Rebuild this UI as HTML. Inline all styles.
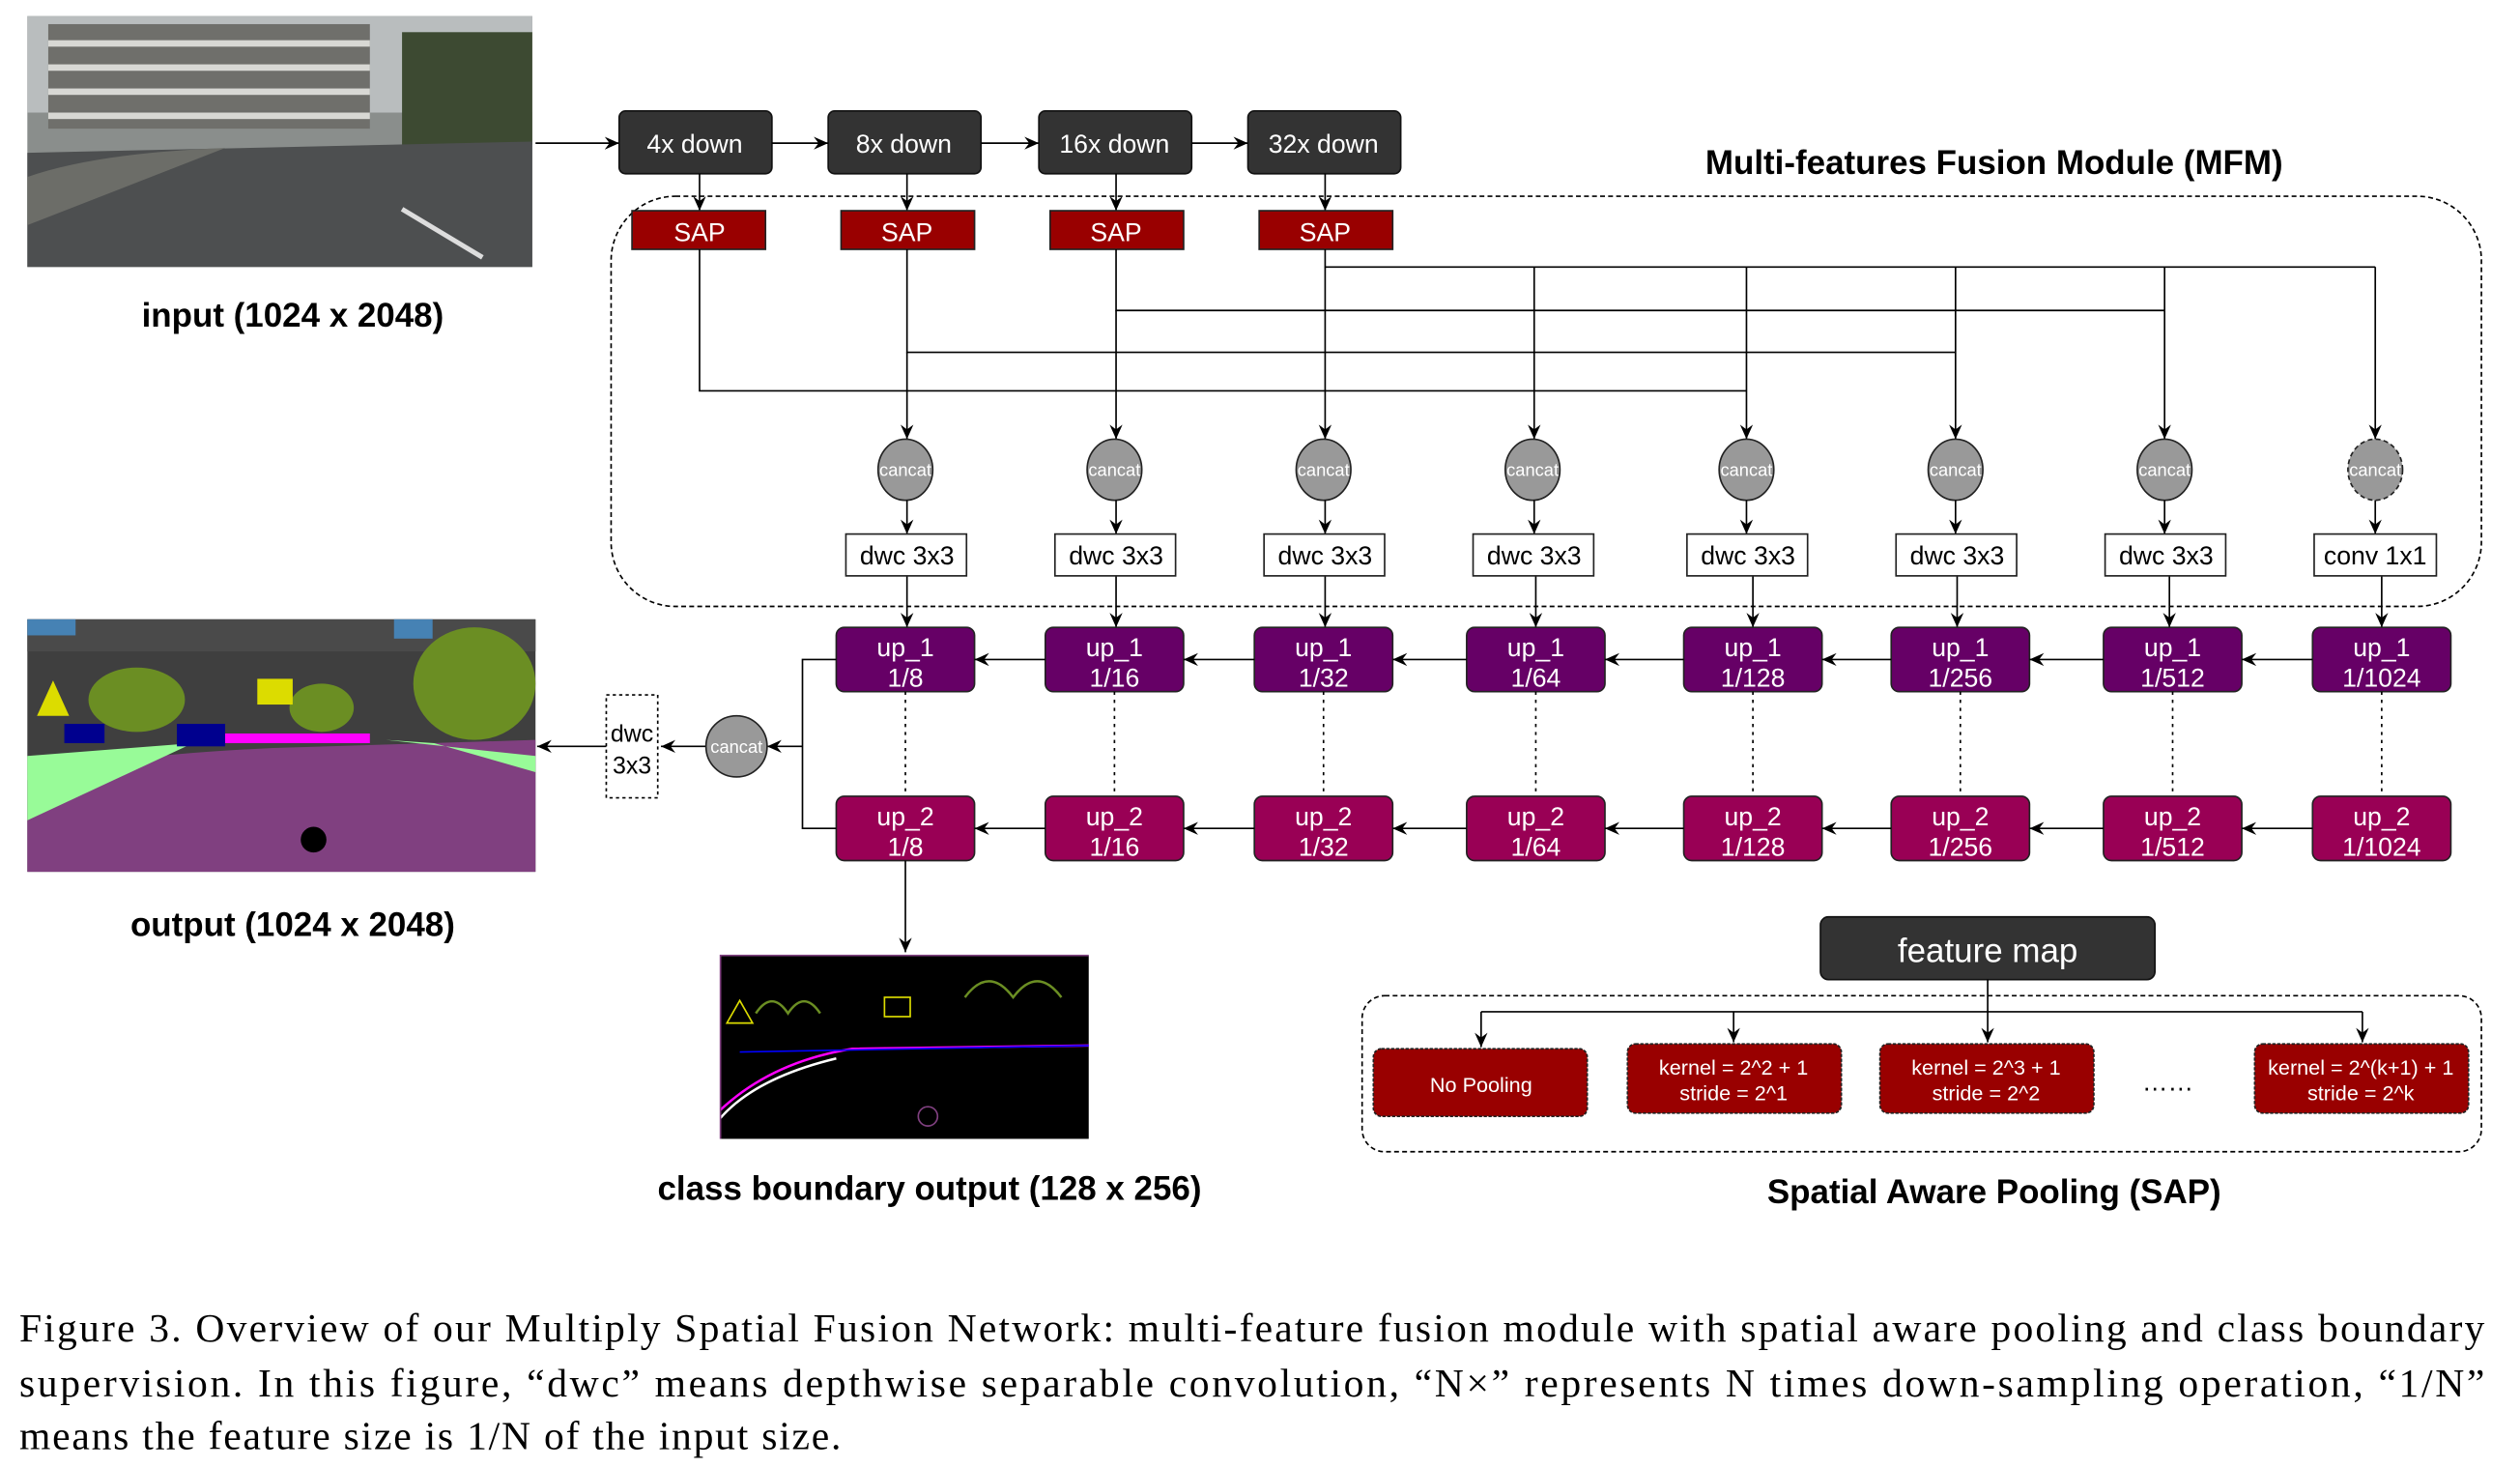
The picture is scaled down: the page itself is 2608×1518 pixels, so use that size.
<!DOCTYPE html>
<html><head><meta charset="utf-8"><style>
html,body{margin:0;padding:0;background:#fff;}
svg{display:block;}
</style></head><body>
<svg width="2608" height="1518" viewBox="0 0 1567 912" preserveAspectRatio="none" xmlns="http://www.w3.org/2000/svg" font-family="Liberation Sans, sans-serif">
<defs>
<marker id="a" markerWidth="10" markerHeight="10" refX="9" refY="5" orient="auto" markerUnits="userSpaceOnUse"><path d="M0,1 L9,5 L0,9 L3,5 z" fill="#000"/></marker>
</defs>
<rect width="1567" height="912" fill="#fff"/>

<!-- input image -->
<g>
<rect x="17" y="10" width="314" height="156" fill="#8a8e8c"/>
<rect x="17" y="10" width="314" height="60" fill="#b9bdbe"/>
<rect x="30" y="15" width="200" height="65" fill="#6f6f6b"/>
<rect x="30" y="25" width="200" height="4" fill="#d8d8d4"/><rect x="30" y="40" width="200" height="4" fill="#d8d8d4"/><rect x="30" y="55" width="200" height="4" fill="#d8d8d4"/><rect x="30" y="70" width="200" height="4" fill="#d8d8d4"/>
<rect x="250" y="20" width="81" height="70" fill="#3d4a32"/>
<path d="M17 95 L331 88 L331 166 L17 166 z" fill="#4d4f50"/>
<path d="M17 110 Q60 95 140 92 L17 140 z" fill="#6c6d68"/>
<line x1="250" y1="130" x2="300" y2="160" stroke="#ddd" stroke-width="3"/>
</g>
<text x="182" y="203" font-size="21" font-weight="bold" text-anchor="middle">input (1024 x 2048)</text>

<!-- output image -->
<g>
<rect x="17" y="385" width="316" height="157" fill="#3f3f3f"/>
<rect x="17" y="385" width="316" height="20" fill="#4a4a4a"/>
<path d="M17 485 Q60 470 170 465 L333 460 L333 542 L17 542 z" fill="#804080"/>
<path d="M17 470 L120 462 L17 510 z" fill="#98fb98"/>
<path d="M240 460 L333 470 L333 480 L270 462 z" fill="#98fb98"/>
<ellipse cx="85" cy="435" rx="30" ry="20" fill="#6b8e23"/>
<ellipse cx="295" cy="425" rx="38" ry="35" fill="#6b8e23"/>
<ellipse cx="200" cy="440" rx="20" ry="15" fill="#6b8e23"/>
<polygon points="33,423 43,445 23,445" fill="#dcdc00"/>
<rect x="160" y="422" width="22" height="16" fill="#dcdc00"/>
<rect x="110" y="450" width="30" height="14" fill="#00008e"/>
<rect x="40" y="450" width="25" height="12" fill="#00008e"/>
<rect x="140" y="456" width="90" height="6" fill="#f0f"/>
<circle cx="195" cy="522" r="8" fill="#000"/>
<rect x="245" y="385" width="24" height="12" fill="#4682b4"/>
<rect x="17" y="385" width="30" height="10" fill="#4682b4"/>
</g>
<text x="182" y="582" font-size="21" font-weight="bold" text-anchor="middle">output (1024 x 2048)</text>

<!-- boundary image -->
<g>
<rect x="448" y="594" width="229" height="114" fill="#000"/>
<path d="M448 690 Q480 660 530 652 L677 650" stroke="#f0f" fill="none" stroke-width="1.5"/>
<path d="M448 695 Q470 670 520 658" stroke="#fff" fill="none" stroke-width="1.5"/>
<path d="M470 630 q10 -15 20 0 q10 -15 20 0 M600 620 q15 -20 30 0 q15 -20 30 0" stroke="#6b8e23" fill="none" stroke-width="1.5"/>
<rect x="550" y="620" width="16" height="12" stroke="#dcdc00" fill="none"/>
<polygon points="460,622 468,636 452,636" stroke="#dcdc00" fill="none"/>
<line x1="460" y1="654" x2="677" y2="650" stroke="#00f"/>
<path d="M448 708 L448 594 L677 594" stroke="#804080" fill="none"/>
<circle cx="577" cy="694" r="6" stroke="#804080" fill="none"/>
</g>
<text x="578" y="746" font-size="21" font-weight="bold" text-anchor="middle">class boundary output (128 x 256)</text>

<!-- down boxes -->
<g font-size="16" fill="#fff" text-anchor="middle">
<rect x="385" y="69" width="95" height="39" rx="4" fill="#333" stroke="#111"/><text x="432" y="95" fill="#fff">4x down</text>
<rect x="515" y="69" width="95" height="39" rx="4" fill="#333" stroke="#111"/><text x="562" y="95" fill="#fff">8x down</text>
<rect x="646" y="69" width="95" height="39" rx="4" fill="#333" stroke="#111"/><text x="693" y="95" fill="#fff">16x down</text>
<rect x="776" y="69" width="95" height="39" rx="4" fill="#333" stroke="#111"/><text x="823" y="95" fill="#fff">32x down</text>
</g>
<g stroke="#000" stroke-width="1" fill="none" marker-end="url(#a)">
<line x1="333" y1="89" x2="385" y2="89"/>
<line x1="480" y1="89" x2="515" y2="89"/>
<line x1="610" y1="89" x2="646" y2="89"/>
<line x1="741" y1="89" x2="776" y2="89"/>
<line x1="435" y1="108" x2="435" y2="131"/>
<line x1="564" y1="108" x2="564" y2="131"/>
<line x1="694" y1="108" x2="694" y2="131"/>
<line x1="824" y1="108" x2="824" y2="131"/>
</g>
<text x="1240" y="108" font-size="21" font-weight="bold" text-anchor="middle">Multi-features Fusion Module (MFM)</text>

<!-- MFM dashed -->
<rect x="380" y="122" width="1163" height="255" rx="40" fill="none" stroke="#000" stroke-dasharray="3,2"/>

<!-- SAP boxes -->
<g font-size="16" text-anchor="middle">
<rect x="393" y="131" width="83" height="24" fill="#990000" stroke="#222"/><text x="435" y="150" fill="#fff">SAP</text>
<rect x="523" y="131" width="83" height="24" fill="#990000" stroke="#222"/><text x="564" y="150" fill="#fff">SAP</text>
<rect x="653" y="131" width="83" height="24" fill="#990000" stroke="#222"/><text x="694" y="150" fill="#fff">SAP</text>
<rect x="783" y="131" width="83" height="24" fill="#990000" stroke="#222"/><text x="824" y="150" fill="#fff">SAP</text>
</g>

<!-- buses -->
<g stroke="#000" stroke-width="1" fill="none">
<polyline points="435,155 435,243 1086,243"/>
<polyline points="564,155 564,219 1216,219"/>
<polyline points="694,155 694,193 1346,193"/>
<polyline points="824,155 824,166 1477,166"/>
</g>
<g stroke="#000" stroke-width="1" fill="none" marker-end="url(#a)">
<line x1="564" y1="219" x2="564" y2="273"/>
<line x1="694" y1="193" x2="694" y2="273"/>
<line x1="824" y1="166" x2="824" y2="273"/>
<line x1="954" y1="166" x2="954" y2="273"/>
<line x1="1086" y1="166" x2="1086" y2="273"/>
<line x1="1216" y1="166" x2="1216" y2="273"/>
<line x1="1346" y1="166" x2="1346" y2="273"/>
<line x1="1477" y1="166" x2="1477" y2="273"/>
</g>

<!-- cancat + dwc -->
<g font-size="11" text-anchor="middle">
<ellipse cx="563" cy="292" rx="17" ry="19" fill="#999" stroke="#222"/><text x="563" y="296" fill="#fff">cancat</text>
<ellipse cx="693" cy="292" rx="17" ry="19" fill="#999" stroke="#222"/><text x="693" y="296" fill="#fff">cancat</text>
<ellipse cx="823" cy="292" rx="17" ry="19" fill="#999" stroke="#222"/><text x="823" y="296" fill="#fff">cancat</text>
<ellipse cx="953" cy="292" rx="17" ry="19" fill="#999" stroke="#222"/><text x="953" y="296" fill="#fff">cancat</text>
<ellipse cx="1086" cy="292" rx="17" ry="19" fill="#999" stroke="#222"/><text x="1086" y="296" fill="#fff">cancat</text>
<ellipse cx="1216" cy="292" rx="17" ry="19" fill="#999" stroke="#222"/><text x="1216" y="296" fill="#fff">cancat</text>
<ellipse cx="1346" cy="292" rx="17" ry="19" fill="#999" stroke="#222"/><text x="1346" y="296" fill="#fff">cancat</text>
<ellipse cx="1477" cy="292" rx="17" ry="19" fill="#999" stroke="#222" stroke-dasharray="3,2"/><text x="1477" y="296" fill="#fff">cancat</text>
</g>
<g stroke="#000" fill="none" marker-end="url(#a)">
<line x1="564" y1="311" x2="564" y2="332"/><line x1="694" y1="311" x2="694" y2="332"/><line x1="824" y1="311" x2="824" y2="332"/><line x1="954" y1="311" x2="954" y2="332"/>
<line x1="1086" y1="311" x2="1086" y2="332"/><line x1="1216" y1="311" x2="1216" y2="332"/><line x1="1346" y1="311" x2="1346" y2="332"/><line x1="1477" y1="311" x2="1477" y2="332"/>
<line x1="564" y1="358" x2="564" y2="390"/><line x1="694" y1="358" x2="694" y2="390"/><line x1="824" y1="358" x2="824" y2="390"/><line x1="955" y1="358" x2="955" y2="390"/>
<line x1="1090" y1="358" x2="1090" y2="390"/><line x1="1217" y1="358" x2="1217" y2="390"/><line x1="1349" y1="358" x2="1349" y2="390"/><line x1="1481" y1="358" x2="1481" y2="390"/>
</g>
<g font-size="16" text-anchor="middle">
<rect x="526" y="332" width="75" height="26" fill="#fff" stroke="#222"/><text x="564" y="351">dwc 3x3</text>
<rect x="656" y="332" width="75" height="26" fill="#fff" stroke="#222"/><text x="694" y="351">dwc 3x3</text>
<rect x="786" y="332" width="75" height="26" fill="#fff" stroke="#222"/><text x="824" y="351">dwc 3x3</text>
<rect x="916" y="332" width="75" height="26" fill="#fff" stroke="#222"/><text x="954" y="351">dwc 3x3</text>
<rect x="1049" y="332" width="75" height="26" fill="#fff" stroke="#222"/><text x="1087" y="351">dwc 3x3</text>
<rect x="1179" y="332" width="75" height="26" fill="#fff" stroke="#222"/><text x="1217" y="351">dwc 3x3</text>
<rect x="1309" y="332" width="75" height="26" fill="#fff" stroke="#222"/><text x="1347" y="351">dwc 3x3</text>
<rect x="1439" y="332" width="76" height="26" fill="#fff" stroke="#222"/><text x="1477" y="351">conv 1x1</text>
</g>

<!-- up rows -->
<g font-size="16" text-anchor="middle" fill="#fff">
<rect x="520" y="390" width="86" height="40" rx="5" fill="#660066" stroke="#222"/><text x="563" y="408" fill="#fff">up_1</text><text x="563" y="427" fill="#fff">1/8</text>
<rect x="650" y="390" width="86" height="40" rx="5" fill="#660066" stroke="#222"/><text x="693" y="408" fill="#fff">up_1</text><text x="693" y="427" fill="#fff">1/16</text>
<rect x="780" y="390" width="86" height="40" rx="5" fill="#660066" stroke="#222"/><text x="823" y="408" fill="#fff">up_1</text><text x="823" y="427" fill="#fff">1/32</text>
<rect x="912" y="390" width="86" height="40" rx="5" fill="#660066" stroke="#222"/><text x="955" y="408" fill="#fff">up_1</text><text x="955" y="427" fill="#fff">1/64</text>
<rect x="1047" y="390" width="86" height="40" rx="5" fill="#660066" stroke="#222"/><text x="1090" y="408" fill="#fff">up_1</text><text x="1090" y="427" fill="#fff">1/128</text>
<rect x="1176" y="390" width="86" height="40" rx="5" fill="#660066" stroke="#222"/><text x="1219" y="408" fill="#fff">up_1</text><text x="1219" y="427" fill="#fff">1/256</text>
<rect x="1308" y="390" width="86" height="40" rx="5" fill="#660066" stroke="#222"/><text x="1351" y="408" fill="#fff">up_1</text><text x="1351" y="427" fill="#fff">1/512</text>
<rect x="1438" y="390" width="86" height="40" rx="5" fill="#660066" stroke="#222"/><text x="1481" y="408" fill="#fff">up_1</text><text x="1481" y="427" fill="#fff">1/1024</text>
<rect x="520" y="495" width="86" height="40" rx="5" fill="#990055" stroke="#222"/><text x="563" y="513" fill="#fff">up_2</text><text x="563" y="532" fill="#fff">1/8</text>
<rect x="650" y="495" width="86" height="40" rx="5" fill="#990055" stroke="#222"/><text x="693" y="513" fill="#fff">up_2</text><text x="693" y="532" fill="#fff">1/16</text>
<rect x="780" y="495" width="86" height="40" rx="5" fill="#990055" stroke="#222"/><text x="823" y="513" fill="#fff">up_2</text><text x="823" y="532" fill="#fff">1/32</text>
<rect x="912" y="495" width="86" height="40" rx="5" fill="#990055" stroke="#222"/><text x="955" y="513" fill="#fff">up_2</text><text x="955" y="532" fill="#fff">1/64</text>
<rect x="1047" y="495" width="86" height="40" rx="5" fill="#990055" stroke="#222"/><text x="1090" y="513" fill="#fff">up_2</text><text x="1090" y="532" fill="#fff">1/128</text>
<rect x="1176" y="495" width="86" height="40" rx="5" fill="#990055" stroke="#222"/><text x="1219" y="513" fill="#fff">up_2</text><text x="1219" y="532" fill="#fff">1/256</text>
<rect x="1308" y="495" width="86" height="40" rx="5" fill="#990055" stroke="#222"/><text x="1351" y="513" fill="#fff">up_2</text><text x="1351" y="532" fill="#fff">1/512</text>
<rect x="1438" y="495" width="86" height="40" rx="5" fill="#990055" stroke="#222"/><text x="1481" y="513" fill="#fff">up_2</text><text x="1481" y="532" fill="#fff">1/1024</text>
</g>
<g stroke="#000" fill="none" marker-end="url(#a)">
<line x1="650" y1="410" x2="606" y2="410"/><line x1="780" y1="410" x2="736" y2="410"/><line x1="912" y1="410" x2="866" y2="410"/><line x1="1047" y1="410" x2="998" y2="410"/>
<line x1="1176" y1="410" x2="1133" y2="410"/><line x1="1308" y1="410" x2="1262" y2="410"/><line x1="1438" y1="410" x2="1394" y2="410"/>
<line x1="650" y1="515" x2="606" y2="515"/><line x1="780" y1="515" x2="736" y2="515"/><line x1="912" y1="515" x2="866" y2="515"/><line x1="1047" y1="515" x2="998" y2="515"/>
<line x1="1176" y1="515" x2="1133" y2="515"/><line x1="1308" y1="515" x2="1262" y2="515"/><line x1="1438" y1="515" x2="1394" y2="515"/>
<line x1="499" y1="464" x2="477" y2="464"/>
<line x1="439" y1="464" x2="411" y2="464"/>
<line x1="377" y1="464" x2="334" y2="464"/>
<line x1="563" y1="535" x2="563" y2="592"/>
</g>
<g stroke="#000" fill="none" stroke-dasharray="2,3">
<line x1="563" y1="430" x2="563" y2="495"/><line x1="693" y1="430" x2="693" y2="495"/><line x1="823" y1="430" x2="823" y2="495"/><line x1="955" y1="430" x2="955" y2="495"/>
<line x1="1090" y1="430" x2="1090" y2="495"/><line x1="1219" y1="430" x2="1219" y2="495"/><line x1="1351" y1="430" x2="1351" y2="495"/><line x1="1481" y1="430" x2="1481" y2="495"/>
</g>
<polyline points="520,410 499,410 499,515 520,515" stroke="#000" fill="none"/>
<ellipse cx="458" cy="464" rx="19" ry="19" fill="#999" stroke="#222"/><text x="458" y="468" font-size="11" text-anchor="middle" fill="#fff">cancat</text>
<rect x="377" y="432" width="32" height="64" fill="#fff" stroke="#000" stroke-dasharray="2,2"/>
<text x="393" y="461" font-size="15" text-anchor="middle">dwc</text><text x="393" y="481" font-size="15" text-anchor="middle">3x3</text>

<!-- SAP detail -->
<rect x="1132" y="570" width="208" height="39" rx="5" fill="#333" stroke="#111"/>
<text x="1236" y="598" font-size="21" text-anchor="middle" fill="#fff">feature map</text>
<rect x="847" y="619" width="696" height="97" rx="14" fill="none" stroke="#000" stroke-dasharray="3,2"/>
<line x1="1236" y1="609" x2="1236" y2="629" stroke="#000"/>
<line x1="921" y1="629" x2="1469" y2="629" stroke="#000"/>
<g stroke="#000" fill="none" marker-end="url(#a)">
<line x1="921" y1="629" x2="921" y2="651"/><line x1="1078" y1="629" x2="1078" y2="648"/><line x1="1236" y1="629" x2="1236" y2="648"/><line x1="1469" y1="629" x2="1469" y2="648"/>
</g>
<g font-size="13" text-anchor="middle">
<rect x="854" y="652" width="133" height="42" rx="5" fill="#990000" stroke="#222" stroke-dasharray="2,1"/><text x="921" y="679" fill="#fff">No Pooling</text>
<rect x="1012" y="649" width="133" height="43" rx="5" fill="#990000" stroke="#222" stroke-dasharray="2,1"/><text x="1078" y="668" fill="#fff">kernel = 2^2 + 1</text><text x="1078" y="684" fill="#fff">stride = 2^1</text>
<rect x="1169" y="649" width="133" height="43" rx="5" fill="#990000" stroke="#222" stroke-dasharray="2,1"/><text x="1235" y="668" fill="#fff">kernel = 2^3 + 1</text><text x="1235" y="684" fill="#fff">stride = 2^2</text>
<rect x="1402" y="649" width="133" height="43" rx="5" fill="#990000" stroke="#222" stroke-dasharray="2,1"/><text x="1468" y="668" fill="#fff">kernel = 2^(k+1) + 1</text><text x="1468" y="684" fill="#fff">stride = 2^k</text>
</g>
<text x="1348" y="678" font-size="16" text-anchor="middle">……</text>
<text x="1240" y="748" font-size="21" font-weight="bold" text-anchor="middle">Spatial Aware Pooling (SAP)</text>

<!-- caption -->
<g font-family="Liberation Serif, serif" font-size="25">
<text x="12" y="834" textLength="1533" lengthAdjust="spacing">Figure 3. Overview of our Multiply Spatial Fusion Network: multi-feature fusion module with spatial aware pooling and class boundary</text>
<text x="12" y="868" textLength="1533" lengthAdjust="spacing">supervision.  In this figure, “dwc” means depthwise separable convolution, “N×” represents N times down-sampling operation, “1/N”</text>
<text x="12" y="901" textLength="511" lengthAdjust="spacing">means the feature size is 1/N of the input size.</text>
</g>
</svg>
</body></html>
